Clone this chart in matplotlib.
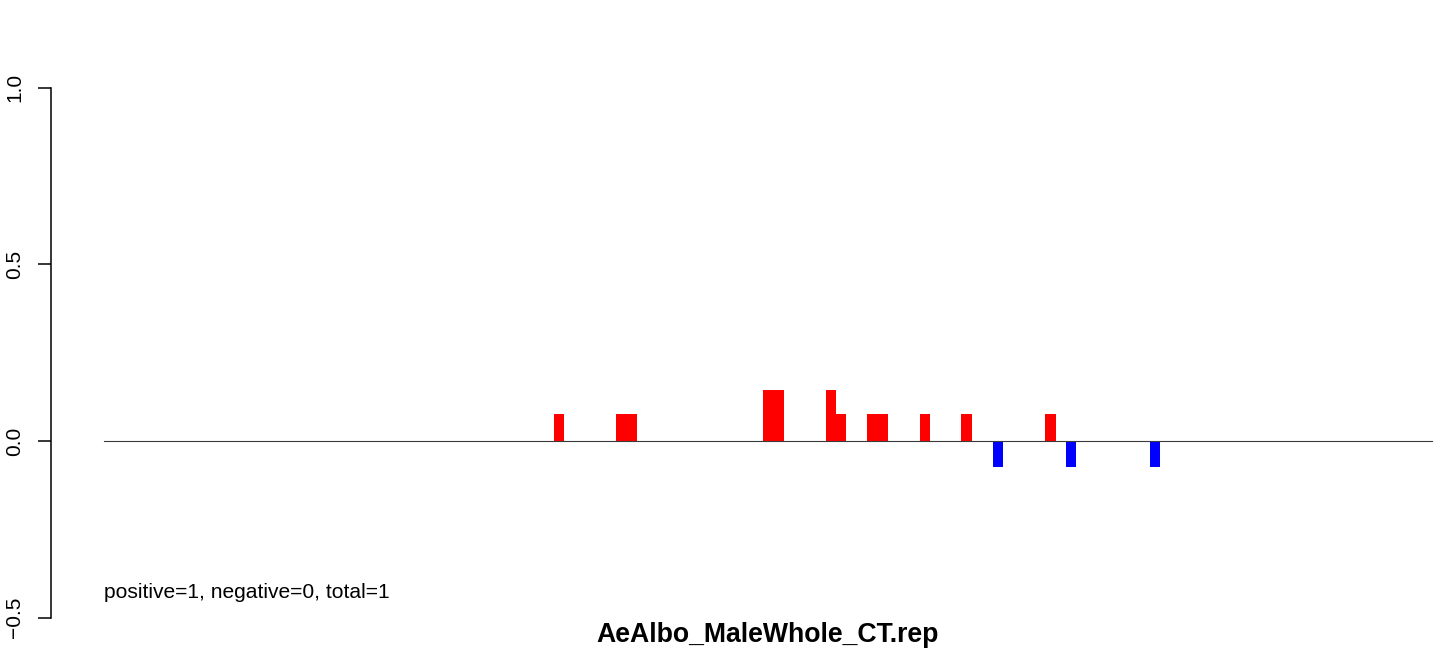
import matplotlib
matplotlib.use("Agg")
import matplotlib.pyplot as plt

plt.rcParams["font.family"] = ["Liberation Sans", "DejaVu Sans"]

# bin index (from the left end of the baseline) and bar height
bins = [43, 49, 50, 63, 64, 69, 70, 73, 74, 78, 82, 85, 90, 92, 100]
values = [0.075, 0.075, 0.075, 0.145, 0.145, 0.145, 0.075, 0.075, 0.075,
          0.075, 0.075, -0.075, 0.075, -0.075, -0.075]
n_bins = 127
yticks = [-0.5, 0.0, 0.5, 1.0]
ytick_labels = ["\u22120.5", "0.0", "0.5", "1.0"]
info = "positive=1, negative=0, total=1"
title = "AeAlbo_MaleWhole_CT.rep"

W, H = 1444, 656
fig = plt.figure(figsize=(W / 100, H / 100), dpi=100)
# axes spans the baseline in x and the -0.5..1 tick range in y
ax = fig.add_axes([104 / W, (H - 617.7) / H, (1432 - 104) / W, (617.7 - 87.5) / H])
ax.set_xlim(0, n_bins)
ax.set_ylim(-0.5, 1.0)

colors = ["red" if v > 0 else "blue" for v in values]
ax.bar(bins, values, width=1.0, align="edge", color=colors, linewidth=0, clip_on=False)
ax.plot([0, n_bins], [0, 0], color="#3a3a3a", lw=0.8, clip_on=False)

for s in ["top", "right", "bottom"]:
    ax.spines[s].set_visible(False)
ax.spines["left"].set_position(("outward", 38.4))
ax.spines["left"].set_linewidth(1.1)
ax.spines["left"].set_bounds(-0.5, 1.0)
ax.set_xticks([])
ax.set_yticks(yticks)
ax.set_yticklabels(ytick_labels, rotation=90, va="center", fontsize=15)
ax.tick_params(axis="y", length=9.4, width=1.1, pad=9.5)

ax.text(0, -0.443, info, fontsize=15.1, ha="left", va="baseline")
fig.text(768 / W, (H - 635) / H, title, fontsize=19.2, fontweight="bold",
         ha="center", va="center")

fig.savefig("out.png", dpi=100)
